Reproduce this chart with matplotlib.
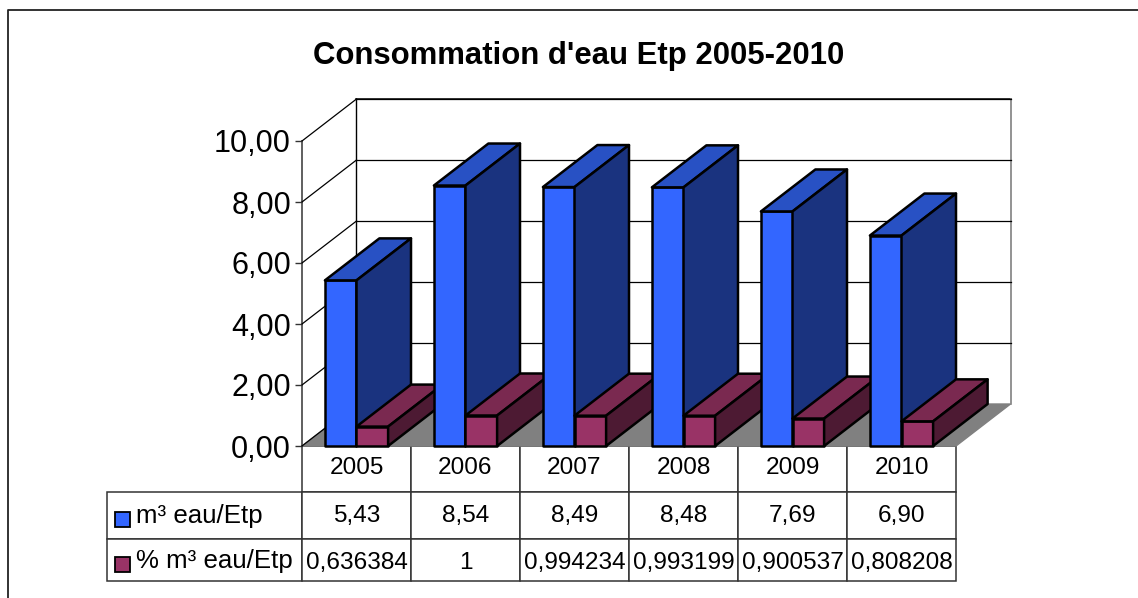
import matplotlib
matplotlib.use('Agg')
import matplotlib.pyplot as plt
from matplotlib.patches import Rectangle

plt.rcParams['font.family'] = ['Liberation Sans', 'DejaVu Sans']

### Data
years = ['2005', '2006', '2007', '2008', '2009', '2010']
eau = [5.43, 8.54, 8.49, 8.48, 7.69, 6.90]
pct = [0.636384, 1, 0.994234, 0.993199, 0.900537, 0.808208]
eau_txt = ['5,43', '8,54', '8,49', '8,48', '7,69', '6,90']
pct_txt = ['0,636384', '1', '0,994234', '0,993199', '0,900537', '0,808208']
yticks = [0, 2, 4, 6, 8, 10]
ylabels = ['0,00', '2,00', '4,00', '6,00', '8,00', '10,00']
names = ['m³ eau/Etp', '% m³ eau/Etp']

W, H = 1138, 598
fig = plt.figure(figsize=(W/100, H/100), dpi=100)
ax = fig.add_axes([302/W, 1-446/H, 654/W, 305/H])
ax.set_xlim(0, 6)
ax.set_ylim(0, 10)
ax.patch.set_visible(False)
for s in ax.spines.values():
    s.set_visible(False)

# depth of the 3d box, in data units
DX = 0.5
DY = 42/30.5

def box(x0, x1, h, colors, z):
    front, top, side = colors
    kw = dict(edgecolor='black', linewidth=1.8, clip_on=False, zorder=z, joinstyle='round')
    ax.fill([x0, x1, x1, x0], [0, 0, h, h], facecolor=front, **kw)
    ax.fill([x0, x1, x1+DX, x0+DX], [h, h, h+DY, h+DY], facecolor=top, **kw)
    ax.fill([x1, x1+DX, x1+DX, x1], [0, DY, h+DY, h], facecolor=side, **kw)

# floor and walls
ax.fill([0, DX, 6+DX, 6], [0, DY, DY, 0], facecolor='#808080', edgecolor='#808080', clip_on=False, zorder=1)
ax.plot([DX, 6+DX], [10+DY, 10+DY], color='black', lw=1.1, clip_on=False, zorder=2)
ax.plot([6+DX, 6+DX], [10+DY, DY], color='#808080', lw=1.2, clip_on=False, zorder=2)
ax.plot([0, 0], [0, 10], color='#444444', lw=1.2, clip_on=False, zorder=2)
ax.plot([DX, DX], [DY, 10+DY], color='black', lw=1, clip_on=False, zorder=2)
for t in yticks:
    ax.plot([0, DX], [t, t+DY], color='black', lw=0.9, clip_on=False, zorder=2)
    if t > 0:
        ax.plot([DX, 6+DX], [t+DY, t+DY], color='black', lw=0.9, clip_on=False, zorder=2)

blue = ('#3366ff', '#2851c4', '#1a337f')
maroon = ('#993366', '#7a2950', '#4d1a33')
for i in range(len(years)):
    box(i+0.21, i+0.5, eau[i], blue, 3+2*i)
    box(i+0.5, i+0.79, pct[i], maroon, 4+2*i)

ax.set_xticks([])
ax.set_yticks(yticks)
ax.set_yticklabels(ylabels, fontsize=22)
ax.tick_params(axis='y', length=5, width=1, pad=3, color='#333333')

fig.text(579/W, 1-56/H, "Consommation d'eau Etp 2005-2010", fontsize=22.4,
         fontweight='bold', ha='center', va='center')

# data table under the chart (grid only, texts placed below)
first_w = 195/109
tb = ax.table(cellText=[[''] * 7 for _ in range(3)], colWidths=[first_w] + [1]*6,
              bbox=[-first_w/6, -135/305, (6+first_w)/6, 135/305])
heights = [46, 47, 42]
for (r, c), cell in tb.get_celld().items():
    cell.set_height(heights[r])
    cell.set_linewidth(1.1)
    cell.set_edgecolor('#333333')
    cell.set_clip_on(False)
    if c == 0 and r == 0:
        cell.set_visible(False)

for row, ypix in [(years, 468), (eau_txt, 516), (pct_txt, 563)]:
    for i, s in enumerate(row):
        ax.text(i+0.5, (446-ypix)/30.5, s, fontsize=17.6, ha='center', va='center', clip_on=False)

# legend keys and names in the table
for name, col, ym in [(names[0], blue[0], 519.5), (names[1], maroon[0], 564)]:
    fig.add_artist(Rectangle((114.5/W, 1-(ym+7.5)/H), 15/W, 15/H, transform=fig.transFigure,
                             facecolor=col, edgecolor='black', linewidth=1.3))
    fig.text(136/W, 1-(ym-3)/H, name, fontsize=18.6, ha='left', va='center')

# chart frame
fig.add_artist(plt.Line2D([8/W, 8/W, 1], [0, 1-10/H, 1-10/H],
                          color='#222222', lw=1.3, transform=fig.transFigure))

fig.savefig('out.png', dpi=100)
